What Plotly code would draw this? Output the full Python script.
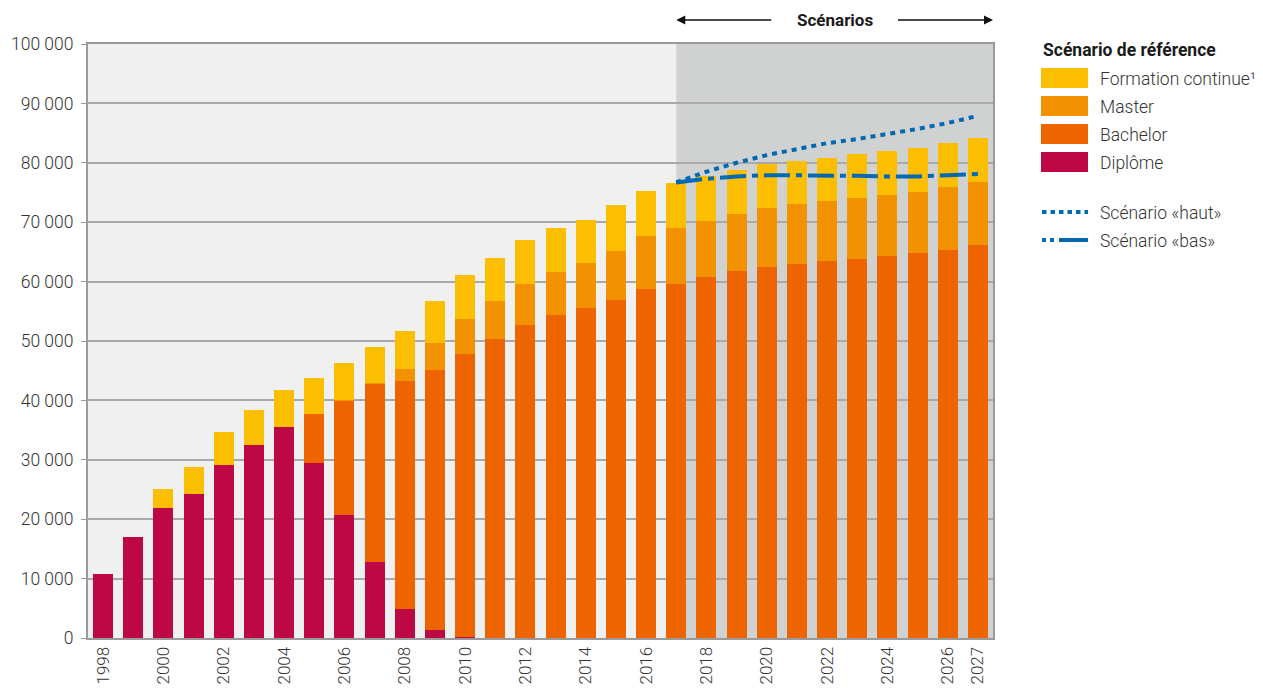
import plotly.graph_objects as go

years = list(range(1998, 2028))
diplome = [10800, 17000, 21900, 24300, 29100, 32500, 35500, 29500, 20700, 12800,
           4900, 1350, 200, 0, 0, 0, 0, 0, 0, 0,
           0, 0, 0, 0, 0, 0, 0, 0, 0, 0]
bachelor = [0, 0, 0, 0, 0, 0, 0, 8200, 19250, 30000,
            38400, 43750, 47600, 50300, 52700, 54400, 55600, 56900, 58800, 59600,
            60800, 61800, 62500, 63000, 63500, 63800, 64300, 64800, 65300, 66200]
master = [0, 0, 0, 0, 0, 0, 0, 0, 150, 200,
          2000, 4600, 5900, 6400, 6900, 7200, 7500, 8300, 8900, 9400,
          9400, 9600, 9900, 10100, 10100, 10300, 10300, 10300, 10600, 10600]
formation = [0, 0, 3200, 4500, 5600, 5900, 6300, 6100, 6200, 6000,
             6400, 7000, 7400, 7300, 7400, 7400, 7300, 7700, 7600, 7600,
             7600, 7400, 7400, 7200, 7200, 7400, 7400, 7400, 7400, 7400]

scen_years = list(range(2017, 2028))
haut = [76700, 78500, 80000, 81300, 82300, 83300, 84000, 84800, 85700, 86700, 87900]
bas = [76700, 77300, 77700, 77900, 77900, 77900, 77800, 77700, 77700, 77900, 78100]

y_ticks = list(range(0, 100001, 10000))
y_ticktext = [f"{v:,}".replace(",", " ") for v in y_ticks]
x_ticks = list(range(1998, 2027, 2)) + [2027]

C_DIP = "#be0846"
C_BAC = "#ee6500"
C_MAS = "#f39200"
C_FOR = "#fbbe00"
C_LINE = "#0069b4"
TXT = "#333333"
FONT = "Roboto"

fig = go.Figure()
for name, vals, col in [("Diplôme", diplome, C_DIP), ("Bachelor", bachelor, C_BAC),
                        ("Master", master, C_MAS), ("Formation continue", formation, C_FOR)]:
    fig.add_trace(go.Bar(x=years, y=vals, name=name, marker=dict(color=col, line=dict(width=0)),
                         showlegend=False))

fig.add_trace(go.Scatter(x=scen_years, y=haut, mode="lines", name="Scénario «haut»",
                         line=dict(color=C_LINE, width=4, dash="5px,5px"), showlegend=False))
fig.add_trace(go.Scatter(x=scen_years, y=bas, mode="lines", name="Scénario «bas»",
                         line=dict(color=C_LINE, width=4, dash="26px,6px,6px,6px"), showlegend=False))

shapes = [dict(type="rect", xref="x", yref="paper", x0=2017, x1=2027.5, y0=0, y1=1,
               fillcolor="#d0d2d2", line=dict(width=0), layer="below")]

# manual legend (paper coordinates, positions given in reference pixels)
W = 905.0
H = 594.0
def px(xp):
    return (xp - 88) / W
def py(yp):
    return (638 - yp) / H

annotations = [dict(text="<b>Scénario de référence</b>", xref="paper", yref="paper",
                    x=px(1041), y=py(50), xanchor="left", yanchor="middle", showarrow=False,
                    font=dict(family=FONT, size=17.5, color="#1a1a1a"))]
legend_items = [("Formation continue¹", C_FOR, 78), ("Master", C_MAS, 106),
                ("Bachelor", C_BAC, 134), ("Diplôme", C_DIP, 162)]
for label, col, yc in legend_items:
    shapes.append(dict(type="rect", xref="paper", yref="paper", x0=px(1041), x1=px(1088),
                       y0=py(yc + 10), y1=py(yc - 10), fillcolor=col, line=dict(width=0)))
    annotations.append(dict(text=label, xref="paper", yref="paper", x=px(1098), y=py(yc + 1),
                            xanchor="left", yanchor="middle", showarrow=False,
                            font=dict(family=FONT, size=17.5, color=TXT, weight=300)))
for label, dash, yc in [("Scénario «haut»", "4.5px,4px", 212),
                        ("Scénario «bas»", "4px,4px,4px,5px,30px,100px", 240)]:
    shapes.append(dict(type="line", xref="paper", yref="paper", x0=px(1042), x1=px(1088),
                       y0=py(yc), y1=py(yc), line=dict(color=C_LINE, width=4, dash=dash)))
    annotations.append(dict(text=label, xref="paper", yref="paper", x=px(1098), y=py(yc + 1),
                            xanchor="left", yanchor="middle", showarrow=False,
                            font=dict(family=FONT, size=17.5, color=TXT, weight=300)))

# Scénarios header with arrows
annotations.append(dict(text="<b>Scénarios</b>", xref="x", yref="paper", x=2022.25, y=py(20),
                        xanchor="center", yanchor="middle",
                        showarrow=False, font=dict(family=FONT, size=17, color="#1a1a1a")))
annotations.append(dict(text="", xref="x", yref="paper", x=2017, y=py(20), axref="x", ax=2020.2,
                        ay=0, ayref="pixel", showarrow=True, arrowhead=2, arrowsize=1.2,
                        arrowwidth=1.5, arrowcolor="#111111"))
annotations.append(dict(text="", xref="x", yref="paper", x=2027.5, y=py(20), axref="x", ax=2024.3,
                        ay=0, ayref="pixel", showarrow=True, arrowhead=2, arrowsize=1.2,
                        arrowwidth=1.5, arrowcolor="#111111"))

fig.update_layout(
    barmode="stack", bargap=0.34,
    width=1263, height=689,
    margin=dict(l=80, r=278, t=36, b=59, autoexpand=False),
    paper_bgcolor="white", plot_bgcolor="#f0f0f0",
    font=dict(family=FONT, size=16, color=TXT),
    shapes=shapes, annotations=annotations,
    xaxis=dict(range=[1997.5, 2027.5], tickvals=x_ticks, ticktext=[str(v) for v in x_ticks],
               tickangle=-90, showgrid=False, showline=True, linecolor="#9a9a9a", linewidth=2,
               mirror=True, ticks="", zeroline=False, automargin=False,
               tickfont=dict(family=FONT, size=17, color=TXT, weight=300)),
    yaxis=dict(range=[0, 100000], tickvals=y_ticks, ticktext=y_ticktext, showgrid=True,
               gridcolor="#a9a9a9", gridwidth=1.5, showline=True, linecolor="#9a9a9a", linewidth=2,
               mirror=True, ticks="outside", ticklen=5, tickcolor="#9a9a9a", zeroline=False,
               ticklabelstandoff=4, automargin=False,
               tickfont=dict(family=FONT, size=17.5, color=TXT, weight=300)),
)

fig.write_html("out.html")
